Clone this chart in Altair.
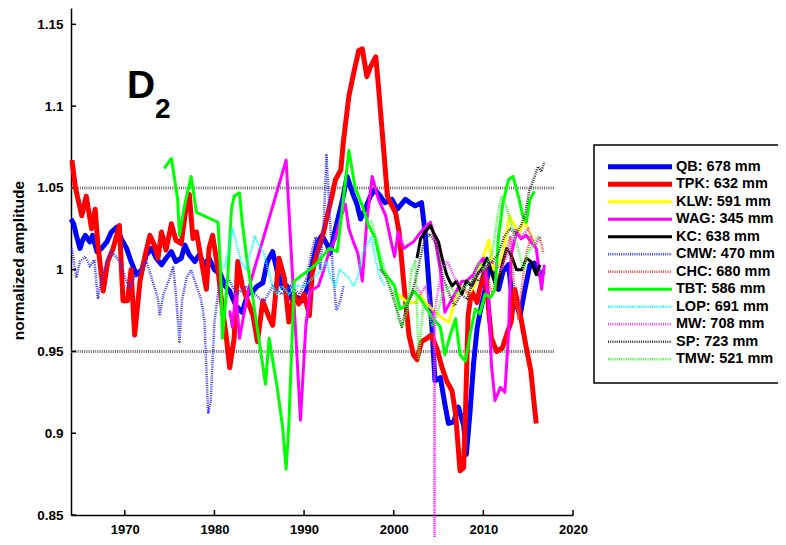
import altair as alt
import pandas as pd

# ---------------- data (year, normalized amplitude) ----------------
QB = [(1964.0, 1.031), (1964.3, 1.028), (1964.6, 1.021), (1965.0, 1.013), (1965.3, 1.018), (1965.6, 1.021),
      (1966.1, 1.017), (1966.4, 1.021), (1966.9, 1.011), (1967.4, 1.013), (1968.0, 1.017), (1968.5, 1.023),
      (1969.1, 1.026), (1969.6, 1.019), (1970.2, 1.013), (1970.7, 1.005), (1971.3, 0.997), (1971.9, 1.000),
      (1972.4, 1.009), (1973.0, 1.013), (1973.5, 1.007), (1974.1, 1.003), (1974.6, 1.007), (1975.2, 1.011),
      (1975.7, 1.005), (1976.3, 1.007), (1976.7, 1.015), (1977.2, 1.009), (1977.8, 1.005), (1978.3, 1.009),
      (1978.9, 1.003), (1979.4, 1.007), (1980.0, 1.000), (1980.7, 0.997), (1981.2, 0.990), (1981.7, 0.987),
      (1982.4, 0.978), (1983.1, 0.974), (1983.7, 0.985), (1984.3, 0.987), (1984.8, 0.990), (1985.4, 0.992),
      (1985.9, 1.005), (1986.5, 1.011), (1987.0, 0.999), (1987.6, 0.989), (1988.1, 0.990), (1988.7, 0.981),
      (1989.3, 0.983), (1989.8, 0.981), (1990.4, 0.989), (1990.9, 1.003), (1991.5, 1.017), (1992.0, 1.021),
      (1992.6, 1.015), (1992.9, 1.010), (1993.5, 1.025), (1994.3, 1.043), (1994.8, 1.057), (1995.4, 1.047),
      (1995.9, 1.040), (1996.3, 1.031), (1996.8, 1.037), (1997.4, 1.045), (1997.9, 1.049), (1998.5, 1.045),
      (1999.0, 1.041), (1999.8, 1.043), (2000.4, 1.037), (2000.7, 1.039), (2001.3, 1.043), (2001.8, 1.041),
      (2002.4, 1.039), (2003.1, 1.041), (2003.5, 1.023), (2003.9, 0.993), (2004.3, 0.962), (2004.6, 0.932),
      (2005.2, 0.934), (2005.7, 0.918), (2006.1, 0.906), (2006.7, 0.907), (2007.2, 0.916), (2007.8, 0.905),
      (2008.1, 0.887), (2008.5, 0.912), (2008.9, 0.942), (2009.3, 0.964), (2009.6, 0.973), (2010.2, 0.988),
      (2010.7, 1.003), (2011.1, 0.997), (2011.7, 0.988), (2012.2, 0.999), (2012.8, 1.003), (2013.1, 0.988),
      (2013.5, 0.981), (2014.1, 0.972), (2014.6, 0.987), (2015.2, 1.003), (2015.7, 1.004), (2016.3, 0.997),
      (2016.8, 0.999)]

TPK = [(1964.1, 1.067), (1964.5, 1.050), (1965.2, 1.033), (1965.7, 1.045), (1966.3, 1.025), (1966.7, 1.037),
       (1967.0, 1.015), (1967.6, 0.987), (1968.1, 1.005), (1968.7, 1.013), (1969.4, 1.027), (1969.8, 0.981),
       (1970.3, 0.981), (1970.7, 1.000), (1971.1, 0.960), (1971.7, 0.993), (1972.2, 1.007), (1972.8, 1.021),
       (1973.3, 1.015), (1973.7, 1.007), (1974.1, 1.023), (1974.6, 1.012), (1975.2, 1.028), (1975.7, 1.018),
       (1976.3, 1.016), (1976.9, 1.041), (1977.2, 1.046), (1977.6, 1.019), (1978.0, 1.023), (1978.5, 1.007),
       (1979.1, 0.988), (1979.4, 1.013), (1979.8, 1.021), (1980.4, 1.000), (1980.9, 0.976), (1981.3, 0.960),
       (1981.7, 0.940), (1982.2, 0.958), (1982.6, 1.005), (1983.1, 0.990), (1983.7, 0.981), (1984.3, 0.972),
       (1984.8, 0.956), (1985.4, 0.981), (1986.0, 0.972), (1986.5, 0.966), (1987.2, 1.007), (1987.8, 0.995),
       (1988.3, 0.968), (1988.9, 0.985), (1989.4, 0.979), (1990.0, 0.985), (1990.6, 0.972), (1990.9, 0.998),
       (1991.5, 1.011), (1992.0, 1.019), (1992.6, 1.033), (1993.1, 1.045), (1993.5, 1.055), (1994.1, 1.061),
       (1994.4, 1.079), (1995.0, 1.106), (1995.6, 1.122), (1996.1, 1.134), (1996.5, 1.135), (1997.0, 1.118),
       (1997.4, 1.124), (1998.0, 1.130), (1998.3, 1.112), (1998.9, 1.072), (1999.3, 1.045), (1999.8, 1.039),
       (2000.2, 1.035), (2000.6, 1.023), (2001.1, 0.993), (2001.7, 0.960), (2002.2, 0.948), (2002.6, 0.945),
       (2003.1, 0.956), (2003.7, 0.958), (2004.2, 0.960), (2004.8, 0.952), (2005.4, 0.940), (2005.9, 0.932),
       (2006.5, 0.926), (2006.9, 0.912), (2007.2, 0.891), (2007.4, 0.877), (2007.8, 0.879), (2008.0, 0.912),
       (2008.3, 0.972), (2008.7, 0.987), (2009.3, 0.980), (2009.6, 0.988), (2010.2, 1.000), (2010.6, 0.975),
       (2010.9, 0.958), (2011.5, 0.950), (2012.1, 0.952), (2012.7, 0.962), (2013.1, 0.968), (2013.5, 0.988),
       (2014.0, 0.975), (2014.2, 0.970), (2014.8, 0.952), (2015.3, 0.938), (2015.7, 0.916), (2015.9, 0.906)]

KLW = [(2000.5, 0.985), (2001.5, 0.980), (2002.5, 0.980), (2003.0, 0.985), (2003.5, 0.980), (2004.5, 0.975),
       (2005.5, 0.970), (2006.2, 0.968), (2006.8, 0.982), (2007.5, 0.990), (2008.3, 0.985), (2009.0, 0.990),
       (2010.0, 1.008), (2010.6, 1.018), (2011.1, 1.000), (2012.0, 1.005), (2012.5, 1.020), (2012.9, 1.033),
       (2013.4, 1.028), (2014.0, 1.022), (2014.5, 1.030), (2015.0, 1.025), (2015.5, 1.018), (2016.0, 1.010)]

WAG = [(1981.7, 0.975), (1982.0, 0.965), (1982.4, 0.985), (1982.8, 0.958), (1983.3, 0.973), (1983.9, 0.990),
       (1988.0, 1.067), (1989.6, 0.908), (1990.2, 0.966), (1990.7, 0.987), (1991.6, 0.990), (1992.2, 1.000),
       (1992.8, 1.011), (1993.5, 1.019), (1994.0, 1.030), (1994.6, 1.040), (1995.0, 1.025), (1995.5, 1.017),
       (1996.0, 1.010), (1996.5, 0.993), (1997.0, 1.030), (1997.6, 1.057), (1998.3, 1.043), (1999.1, 1.033),
       (1999.8, 1.015), (2000.1, 1.008), (2000.5, 1.023), (2001.1, 1.013), (2002.2, 1.017), (2003.3, 1.025),
       (2004.1, 1.029), (2004.6, 1.019), (2005.2, 1.000), (2005.7, 0.974), (2006.3, 0.980), (2007.0, 0.987),
       (2007.6, 0.993), (2008.1, 0.993), (2008.9, 0.997), (2009.4, 1.003), (2010.0, 1.007), (2010.6, 0.982),
       (2010.9, 0.942), (2011.3, 0.920), (2011.9, 0.928), (2012.4, 0.925), (2012.8, 0.960), (2013.1, 1.009),
       (2013.7, 1.023), (2014.2, 1.019), (2014.8, 1.021), (2015.3, 1.017), (2015.9, 1.013), (2016.5, 0.988),
       (2016.8, 1.003)]

KC = [(2002.6, 1.007), (2003.0, 1.019), (2003.5, 1.023), (2004.1, 1.027), (2004.4, 1.023), (2005.0, 1.017),
      (2005.4, 1.007), (2005.9, 0.997), (2006.5, 0.990), (2007.0, 0.993), (2007.6, 0.985), (2008.1, 0.993),
      (2008.7, 0.990), (2009.3, 0.997), (2009.8, 1.000), (2010.4, 1.007), (2010.9, 0.999), (2011.5, 0.988),
      (2012.1, 1.003), (2012.6, 1.013), (2013.1, 1.009), (2013.7, 1.000), (2014.3, 1.000), (2014.8, 1.007),
      (2015.3, 1.005), (2015.9, 0.997), (2016.3, 1.003)]

CMW = [(1964.1, 1.013), (1964.6, 0.995), (1965.0, 1.005), (1965.6, 1.008), (1966.1, 1.002), (1966.6, 1.006),
       (1967.0, 0.982), (1967.4, 0.995), (1968.0, 1.005), (1968.5, 1.011), (1969.0, 1.008), (1969.4, 1.005),
       (1970.2, 0.993), (1970.6, 0.989), (1971.0, 0.995), (1971.6, 0.998), (1972.4, 1.005), (1973.0, 0.995),
       (1973.7, 0.982), (1973.9, 0.972), (1974.3, 0.985), (1974.6, 0.989), (1975.0, 0.995), (1975.4, 1.002),
       (1975.7, 0.985), (1976.1, 0.956), (1976.4, 0.982), (1976.9, 0.995), (1977.4, 1.000), (1978.0, 0.990),
       (1978.5, 0.982), (1978.9, 0.968), (1979.1, 0.940), (1979.3, 0.912), (1979.6, 0.920), (1979.8, 0.945),
       (1980.0, 0.968), (1980.5, 0.990), (1981.5, 0.995), (1982.5, 0.985), (1983.5, 0.990), (1984.5, 0.985),
       (1985.5, 0.980), (1986.5, 0.990), (1987.5, 0.985), (1988.5, 0.990), (1989.5, 0.985), (1990.3, 0.995),
       (1990.8, 1.010), (1991.3, 1.020), (1991.8, 1.000), (1992.2, 1.030), (1992.5, 1.070), (1992.8, 1.040),
       (1993.2, 1.000), (1993.6, 0.975), (1994.0, 0.980), (1994.4, 0.990)]

CHC = [(2010.5, 0.995), (2011.0, 0.985), (2011.5, 0.995), (2012.0, 1.000), (2012.5, 1.010), (2013.0, 1.020),
       (2013.5, 0.985), (2013.9, 0.970), (2014.3, 0.990), (2014.8, 1.010), (2015.3, 1.020), (2015.8, 1.015),
       (2016.3, 1.020), (2016.7, 1.010)]

TBT = [(1974.4, 1.062), (1974.8, 1.065), (1975.2, 1.068), (1975.4, 1.061), (1975.9, 1.043), (1976.1, 1.021),
       (1976.7, 1.040), (1977.4, 1.057), (1978.0, 1.035), (1980.4, 1.029), (1980.7, 0.997), (1980.9, 0.958),
       (1981.5, 0.997), (1981.9, 1.037), (1982.2, 1.045), (1982.8, 1.047), (1983.1, 1.029), (1983.7, 1.003),
       (1984.3, 0.982), (1985.0, 0.956), (1985.7, 0.930), (1986.1, 0.958), (1987.0, 0.928), (1987.6, 0.904),
       (1988.0, 0.878), (1988.3, 0.905), (1988.9, 0.993), (1991.3, 1.003), (1992.8, 1.013), (1993.7, 1.011),
       (1994.3, 1.039), (1995.0, 1.073), (1995.7, 1.050), (1996.5, 1.039), (1997.2, 1.027), (1997.9, 1.020),
       (1998.7, 1.000), (1999.4, 0.995), (2000.1, 0.990), (2000.7, 0.976), (2001.3, 0.978), (2002.2, 0.987),
       (2002.9, 0.983), (2003.7, 0.976), (2004.4, 0.970), (2005.2, 0.965), (2005.7, 0.948), (2006.3, 0.960),
       (2006.9, 0.970), (2007.4, 0.948), (2008.0, 0.944), (2008.5, 0.960), (2009.1, 0.976), (2009.6, 0.973),
       (2010.2, 0.985), (2010.8, 0.983), (2011.3, 0.988), (2011.7, 1.021), (2012.2, 1.041), (2012.8, 1.055),
       (2013.3, 1.057), (2013.9, 1.045), (2014.4, 1.033), (2014.8, 1.029), (2015.2, 1.043), (2015.7, 1.048)]

LOP = [(1981.0, 1.000), (1981.5, 1.010), (1982.0, 1.025), (1982.5, 1.015), (1983.0, 1.005), (1983.5, 1.000),
       (1984.0, 1.010), (1984.5, 1.020), (1985.0, 1.015), (1985.5, 1.010), (1986.0, 1.000), (1986.5, 0.990),
       (1987.0, 0.985), (1987.5, 0.990), (1988.3, 0.985), (1989.0, 0.990), (1990.0, 0.990), (1991.0, 0.995),
       (1992.0, 1.000), (1992.5, 1.005), (1993.0, 0.995), (1993.5, 0.990), (1994.0, 1.000), (1995.0, 0.995),
       (1995.5, 0.990), (1996.0, 0.995), (1996.5, 1.010), (1997.0, 1.015), (1997.5, 1.020), (1998.0, 1.005),
       (1998.5, 0.995), (1999.0, 0.990)]

MW = [(2002.5, 0.990), (2003.0, 0.985), (2003.5, 0.990), (2004.0, 0.980), (2004.4, 0.970), (2004.5, 0.975),
      (2004.55, 0.830), (2004.6, 0.975), (2005.3, 1.000), (2006.0, 1.005), (2006.8, 0.995), (2007.5, 0.990),
      (2008.3, 0.985), (2009.0, 0.995), (2010.0, 1.000), (2011.0, 1.005), (2012.0, 1.000), (2012.8, 1.010),
      (2013.5, 1.025), (2014.2, 1.020), (2015.0, 1.025), (2015.7, 1.015), (2016.3, 1.020)]

SP = [(1998.5, 1.000), (1999.2, 0.995), (1999.8, 0.985), (2000.4, 0.975), (2000.9, 0.965), (2001.3, 0.975),
      (2002.0, 0.985), (2002.7, 1.000), (2003.3, 1.015), (2004.0, 1.022), (2004.8, 1.015), (2005.5, 0.995),
      (2006.2, 0.985), (2006.8, 0.978), (2007.5, 0.985), (2008.2, 0.982), (2008.9, 0.995), (2009.5, 0.993),
      (2010.2, 1.000), (2011.0, 1.005), (2011.7, 1.010), (2012.3, 1.020), (2013.0, 1.025), (2013.6, 1.022),
      (2014.2, 1.027), (2014.7, 1.035), (2015.1, 1.048), (2015.6, 1.055), (2016.1, 1.063), (2016.5, 1.060),
      (2016.8, 1.066)]

TMW = [(1997.5, 1.030), (1998.0, 1.020), (1998.5, 1.010), (1999.0, 1.000), (1999.5, 0.990), (2000.0, 0.985),
       (2000.5, 0.970), (2001.0, 0.965), (2001.5, 0.975), (2002.0, 1.000), (2002.4, 1.005), (2002.8, 0.945),
       (2003.3, 0.980), (2003.8, 0.975), (2004.3, 0.966), (2004.8, 0.972), (2005.4, 0.985), (2006.2, 0.990),
       (2007.0, 0.985), (2008.0, 0.990), (2009.0, 0.995), (2009.5, 1.005), (2010.0, 1.000), (2010.5, 1.005),
       (2011.0, 1.010), (2011.5, 1.030), (2012.0, 1.045), (2012.5, 1.040), (2013.0, 1.030), (2013.5, 1.020),
       (2014.0, 1.010), (2014.5, 1.000), (2015.0, 1.010), (2015.5, 1.015), (2016.0, 1.020), (2016.5, 1.020)]

NAMES = ["QB", "TPK", "KLW", "WAG", "KC", "CMW", "CHC", "TBT", "LOP", "MW", "SP", "TMW"]
LABELS = ["QB: 678 mm", "TPK: 632 mm", "KLW: 591 mm", "WAG: 345 mm", "KC: 638 mm", "CMW: 470 mm",
          "CHC: 680 mm", "TBT: 586 mm", "LOP: 691 mm", "MW: 708 mm", "SP: 723 mm", "TMW: 521 mm"]
SERIES = [QB, TPK, KLW, WAG, KC, CMW, CHC, TBT, LOP, MW, SP, TMW]

REF_LEVELS = [0.95, 1.05]
REF_SPAN = [1964, 2018]
X_TICKS = [1970, 1980, 1990, 2000, 2010, 2020]
Y_TICKS = [0.85, 0.9, 0.95, 1.0, 1.05, 1.1, 1.15]

# ---------------- styles ----------------
COLORS = ["#0000ff", "#ff0000", "#ffff00", "#ff00ff", "#000000", "#3535ff",
          "#ff4040", "#00ff00", "#00ffff", "#ff33ff", "#333333", "#33ff33"]
WIDTHS = [5, 5, 3, 3, 3, 2.5, 2.5, 3, 2.5, 2.5, 2.5, 2.5]
DOT = [1, 1.2]
DASHES = [None, None, None, None, None, DOT, DOT, None, DOT, DOT, DOT, DOT]

FONT = "Liberation Sans"
W, H = 502, 507

XS = alt.Scale(domain=[1964, 2020], nice=False, zero=False)
YS = alt.Scale(domain=[0.85, 1.16], nice=False, zero=False)
XAX = alt.Axis(values=X_TICKS, format="d", title=None, grid=False, ticks=False, tickSize=0,
               labelPadding=8, labelFont=FONT, labelFontWeight="bold", labelFontSize=13,
               labelColor="black", labelFlush=False, labelOverlap=False,
               domainColor="black", domainWidth=1.5)
YAX = alt.Axis(values=Y_TICKS, format="~g", title="normalized amplitude", grid=False, ticks=False,
               tickSize=0, labelPadding=8, labelFont=FONT, labelFontWeight="bold", labelFontSize=13.5,
               labelColor="black", labelFlush=False, labelOverlap=False,
               domainColor="black", domainWidth=1.5,
               titleFont=FONT, titleFontWeight="bold", titleFontSize=15.5, titleColor="black",
               titleAngle=270, titleX=-53, titleY=252, titleAlign="center", titleBaseline="middle")


def xenc(field):
    return alt.X(f"{field}:Q", scale=XS, axis=XAX)


def yenc(field):
    return alt.Y(f"{field}:Q", scale=YS, axis=YAX)


plot_layers = []

# dotted reference levels
ref_df = pd.DataFrame({"level": REF_LEVELS, "x0": [REF_SPAN[0]] * 2, "x1": [REF_SPAN[1]] * 2})
plot_layers.append(
    alt.Chart(ref_df).mark_rule(color="#6a6a6a", strokeWidth=3, strokeDash=[1, 1.2]).encode(
        x=xenc("x0"), x2="x1:Q", y=yenc("level"))
)

# inward ticks
plot_layers.append(
    alt.Chart(pd.DataFrame({"t": X_TICKS})).mark_rule(color="black", strokeWidth=1.5).encode(
        x=xenc("t"), y=alt.value(H), y2=alt.value(H - 5))
)
plot_layers.append(
    alt.Chart(pd.DataFrame({"t": Y_TICKS})).mark_rule(color="black", strokeWidth=1.5).encode(
        y=yenc("t"), x=alt.value(0), x2=alt.value(5))
)

for name, pts, col, wid, dash in zip(NAMES, SERIES, COLORS, WIDTHS, DASHES):
    df = pd.DataFrame(pts, columns=["year", "value"])
    kw = dict(color=col, strokeWidth=wid, strokeJoin="round")
    if dash is not None:
        kw["strokeDash"] = dash
    plot_layers.append(
        alt.Chart(df).mark_line(**kw).encode(x=xenc("year"), y=yenc("value"), order="year:Q")
    )

# panel label D2
lab_df = pd.DataFrame({"a": [0]})
plot_layers.append(
    alt.Chart(lab_df).mark_text(text="D", font=FONT, fontWeight="bold", fontSize=39,
                                align="left", baseline="alphabetic", color="black").encode(
        x=alt.value(56), y=alt.value(90))
)
plot_layers.append(
    alt.Chart(lab_df).mark_text(text="2", font=FONT, fontWeight="bold", fontSize=28,
                                align="left", baseline="alphabetic", color="black").encode(
        x=alt.value(84), y=alt.value(110))
)

plot = alt.layer(*plot_layers)

# ---------------- legend panel ----------------
LEG_Y = alt.Scale(domain=NAMES, range=[150, 360], padding=0)
leg_layers = [
    alt.Chart(lab_df).mark_rect(fill="white", stroke="black", strokeWidth=1.5).encode(
        x=alt.value(523), x2=alt.value(800), y=alt.value(137), y2=alt.value(375))
]
for name, col, wid, dash in zip(NAMES, COLORS, WIDTHS, DASHES):
    kw = dict(color=col, strokeWidth=wid)
    if dash is not None:
        kw["strokeDash"] = dash
    leg_layers.append(
        alt.Chart(pd.DataFrame({"name": [name]})).mark_rule(**kw).encode(
            y=alt.Y("name:N", scale=LEG_Y, axis=None), x=alt.value(537), x2=alt.value(601))
    )
leg_layers.append(
    alt.Chart(pd.DataFrame({"name": NAMES, "label": LABELS})).mark_text(
        align="left", baseline="middle", font=FONT, fontWeight="bold", fontSize=14.5, color="black").encode(
        y=alt.Y("name:N", scale=LEG_Y, axis=None), x=alt.value(605), text="label:N")
)
legend = alt.layer(*leg_layers)

chart = alt.layer(plot, legend).resolve_scale(x="independent", y="independent").properties(
    width=W, height=H,
    padding={"left": 63, "top": 0, "right": 205, "bottom": 22},
    autosize=alt.AutoSizeParams(type="none"),
).configure_view(stroke=None)

chart.save("out.html", embed_options={"renderer": "svg", "actions": False})
